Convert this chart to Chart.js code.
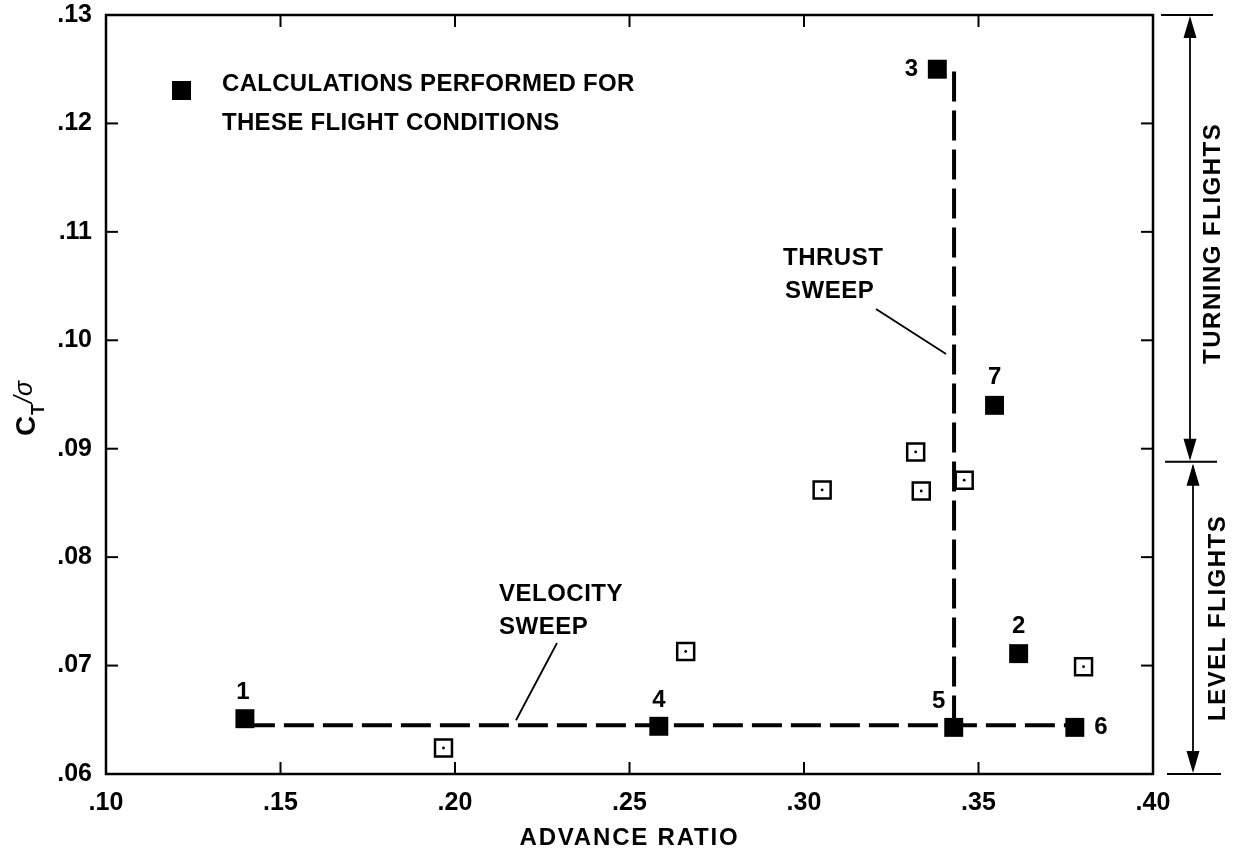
<!DOCTYPE html>
<html>
<head>
<meta charset="utf-8">
<script src="https://cdn.jsdelivr.net/npm/chart.js"></script>
<style>
    body { margin: 0; background: #fff; overflow: hidden; }
    canvas { display: block; }
</style>
</head>
<body>
<canvas id="grafico" width="1235" height="849"></canvas>
<script>
// Pontos calculados (quadrados cheios), numerados 1..7
const calcLabels = ['1', '2', '3', '4', '5', '6', '7'];
const calcMu = [0.1398, 0.3615, 0.3382, 0.2584, 0.3429, 0.3776, 0.3546];
const calcCt = [0.0651, 0.0711, 0.1250, 0.0644, 0.0643, 0.0643, 0.0940];

// Pontos de voo (quadrados vazados com ponto)
const testMu = [0.1967, 0.2661, 0.3052, 0.3320, 0.3336, 0.3459, 0.3801];
const testCt = [0.0624, 0.0713, 0.0862, 0.0897, 0.0861, 0.0871, 0.0699];

// Varreduras (linhas tracejadas)
const velSweepMu = [0.1398, 0.2584, 0.3429, 0.3776];
const velSweepCt = [0.0645, 0.0645, 0.0645, 0.0645];
const thrustSweepMu = [0.3430, 0.3430];
const thrustSweepCt = [0.1248, 0.0645];

// Rotulos dos eixos
const xTickLabels = ['.10', '.15', '.20', '.25', '.30', '.35', '.40'];
const yTickLabels = ['.06', '.07', '.08', '.09', '.10', '.11', '.12', '.13'];

// Limites das faixas a direita
const turningRange = [0.0888, 0.13];
const levelRange = [0.06, 0.0888];

const FONTE = '"Liberation Sans", Arial, Helvetica, sans-serif';

function pontos(xs, ys) {
    return xs.map((x, i) => ({ x: x, y: ys[i] }));
}

function texto(ctx, str, x, y, size, align, spacing) {
    ctx.font = 'bold ' + size + 'px ' + FONTE;
    ctx.letterSpacing = (spacing || 0) + 'px';
    ctx.textAlign = align || 'left';
    ctx.textBaseline = 'middle';
    ctx.fillText(str, x, y);
    ctx.letterSpacing = '0px';
}

function linha(ctx, x1, y1, x2, y2, w) {
    ctx.beginPath();
    ctx.lineWidth = w;
    ctx.moveTo(x1, y1);
    ctx.lineTo(x2, y2);
    ctx.stroke();
}

function seta(ctx, x, yTip, dir) {
    // dir = -1 aponta para cima, 1 para baixo
    ctx.beginPath();
    ctx.moveTo(x, yTip);
    ctx.lineTo(x - 6.5, yTip - dir * 22);
    ctx.lineTo(x + 6.5, yTip - dir * 22);
    ctx.closePath();
    ctx.fill();
}

const anotacoes = {
    id: 'anotacoes',
    afterDraw(chart) {
        const ctx = chart.ctx;
        const area = chart.chartArea;
        const xs = chart.scales.x;
        const ys = chart.scales.y;
        ctx.save();
        ctx.strokeStyle = '#000';
        ctx.fillStyle = '#000';

        // moldura
        ctx.lineWidth = 2.5;
        ctx.strokeRect(area.left, area.top, area.right - area.left, area.bottom - area.top);

        // ticks para dentro
        xs.ticks.forEach(t => {
            const px = xs.getPixelForValue(t.value);
            linha(ctx, px, area.bottom, px, area.bottom - 12, 2);
            linha(ctx, px, area.top, px, area.top + 12, 2);
        });
        ys.ticks.forEach(t => {
            const py = ys.getPixelForValue(t.value);
            linha(ctx, area.left, py, area.left + 12, py, 2);
            linha(ctx, area.right, py, area.right - 12, py, 2);
        });

        // legenda
        ctx.fillRect(172, 81, 19, 19);
        texto(ctx, 'CALCULATIONS PERFORMED FOR', 222, 84, 24, 'left', 0.3);
        texto(ctx, 'THESE FLIGHT CONDITIONS', 222, 123, 24, 'left', 0.3);

        // numeros dos pontos calculados
        const offs = [[-2, -26], [0, -27], [-26, 0], [0, -26], [-15, -26], [26, 0], [0, -28]];
        const meta = chart.getDatasetMeta(0);
        meta.data.forEach((el, i) => {
            texto(ctx, calcLabels[i], el.x + offs[i][0], el.y + offs[i][1], 24, 'center');
        });

        // THRUST SWEEP
        texto(ctx, 'THRUST', 783, 258, 24, 'left', 0.5);
        texto(ctx, 'SWEEP', 785, 291, 24, 'left', 0.5);
        const xThrust = xs.getPixelForValue(thrustSweepMu[0]);
        linha(ctx, 876, 309, xThrust - 8, 354, 1.8);

        // VELOCITY SWEEP
        texto(ctx, 'VELOCITY', 499, 594, 24, 'left', 0.5);
        texto(ctx, 'SWEEP', 499, 627, 24, 'left', 0.5);
        const yVel = ys.getPixelForValue(velSweepCt[0]);
        linha(ctx, 557, 643, 516, yVel - 5, 1.8);

        // titulo eixo x
        texto(ctx, 'ADVANCE RATIO', (area.left + area.right) / 2, 838, 24, 'center', 1.8);

        // titulo eixo y: C_T / sigma
        ctx.save();
        ctx.translate(27, 406);
        ctx.rotate(-Math.PI / 2);
        ctx.textBaseline = 'middle';
        ctx.textAlign = 'left';
        ctx.font = 'bold 28px ' + FONTE;
        ctx.fillText('C', -30, 0);
        ctx.font = 'bold 18px ' + FONTE;
        ctx.fillText('T', -9, 12);
        ctx.font = 'italic 25px ' + FONTE;
        ctx.fillText('/\u03c3', 3, -2);
        ctx.restore();

        // faixas a direita
        const xArrow = area.right + 37;
        const yTop = ys.getPixelForValue(turningRange[1]);
        const yMid = ys.getPixelForValue(turningRange[0]);
        const yBot = ys.getPixelForValue(levelRange[0]);
        linha(ctx, area.right + 8, yTop, area.right + 60, yTop, 2);
        linha(ctx, area.right + 12, yMid, area.right + 64, yMid, 2);
        linha(ctx, area.right + 14, yBot, area.right + 68, yBot, 2);
        linha(ctx, xArrow, yTop + 4, xArrow, yMid - 4, 1.8);
        seta(ctx, xArrow, yTop + 1, -1);
        seta(ctx, xArrow, yMid - 1, 1);
        linha(ctx, xArrow + 3, yMid + 4, xArrow + 3, yBot - 4, 1.8);
        seta(ctx, xArrow + 3, yMid + 2, -1);
        seta(ctx, xArrow + 3, yBot - 1, 1);

        ctx.save();
        ctx.translate(area.right + 60, (yTop + yMid) / 2 + 5);
        ctx.rotate(-Math.PI / 2);
        texto(ctx, 'TURNING FLIGHTS', 0, 0, 24, 'center', 1.5);
        ctx.restore();
        ctx.save();
        ctx.translate(area.right + 65, (yMid + yBot) / 2);
        ctx.rotate(-Math.PI / 2);
        texto(ctx, 'LEVEL FLIGHTS', 0, 0, 24, 'center', 1.5);
        ctx.restore();

        ctx.restore();
    }
};

const ctx = document.getElementById('grafico');
new Chart(ctx, {
    type: 'scatter',
    data: {
        datasets: [
            {
                label: 'Calculado',
                data: pontos(calcMu, calcCt),
                pointStyle: 'rect',
                pointRadius: 13.4,
                backgroundColor: '#000',
                borderWidth: 0,
                order: 0
            },
            {
                label: 'Voo',
                data: pontos(testMu, testCt),
                pointStyle: 'rect',
                pointRadius: 12,
                backgroundColor: '#fff',
                borderColor: '#000',
                borderWidth: 2.5,
                order: 2
            },
            {
                label: 'Voo (centro)',
                data: pontos(testMu, testCt),
                pointStyle: 'circle',
                pointRadius: 1.4,
                backgroundColor: '#000',
                borderWidth: 0,
                order: 1
            },
            {
                label: 'Velocity sweep',
                data: pontos(velSweepMu, velSweepCt),
                showLine: true,
                borderColor: '#000',
                borderWidth: 4,
                borderDash: [30, 9],
                pointRadius: 0,
                order: 5
            },
            {
                label: 'Thrust sweep',
                data: pontos(thrustSweepMu, thrustSweepCt),
                showLine: true,
                borderColor: '#000',
                borderWidth: 4,
                borderDash: [30, 9],
                pointRadius: 0,
                order: 5
            }
        ]
    },
    options: {
        responsive: false,
        animation: false,
        devicePixelRatio: 1,
        layout: {
            padding: { left: 0, top: 15, right: 82, bottom: 0 }
        },
        plugins: {
            legend: { display: false },
            tooltip: { enabled: false }
        },
        scales: {
            x: {
                type: 'linear',
                min: 0.10,
                max: 0.40,
                grid: { display: false, drawTicks: false },
                border: { display: false },
                afterFit(scale) {
                    scale.height = 75;
                    scale.paddingLeft = 0;
                    scale.paddingRight = 0;
                },
                ticks: {
                    stepSize: 0.05,
                    padding: 14,
                    color: '#000',
                    font: { family: FONTE, size: 25, weight: 'bold' },
                    callback: (v, i) => xTickLabels[i]
                }
            },
            y: {
                type: 'linear',
                min: 0.06,
                max: 0.13,
                grid: { display: false, drawTicks: false },
                border: { display: false },
                afterFit(scale) {
                    scale.width = 106;
                    scale.paddingTop = 0;
                    scale.paddingBottom = 0;
                },
                ticks: {
                    stepSize: 0.01,
                    padding: 14,
                    color: '#000',
                    font: { family: FONTE, size: 25, weight: 'bold' },
                    callback: (v, i) => yTickLabels[i]
                }
            }
        }
    },
    plugins: [anotacoes]
});
</script>
</body>
</html>
